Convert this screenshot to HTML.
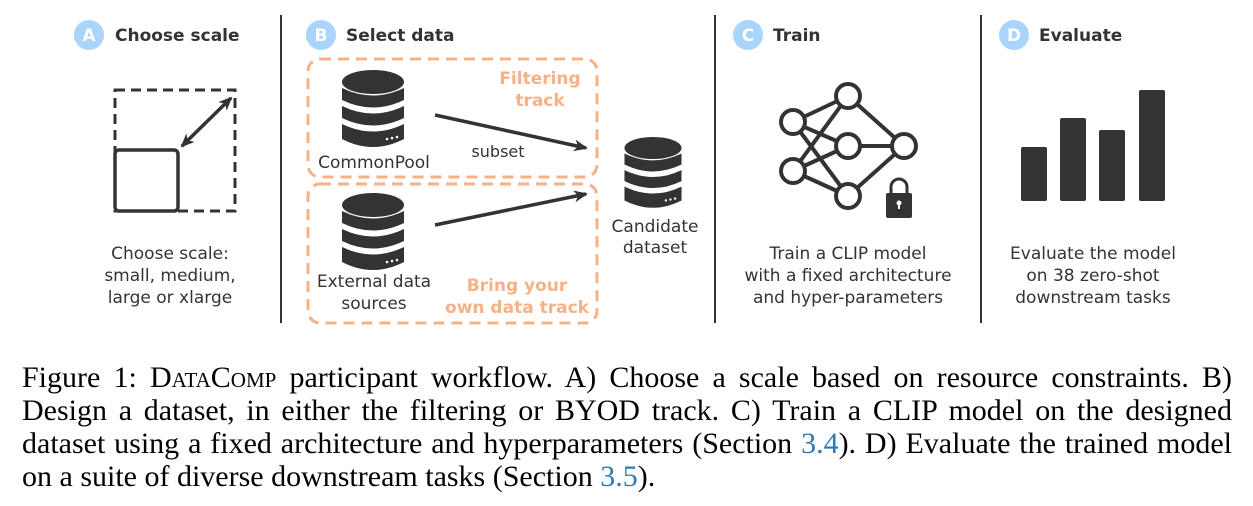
<!DOCTYPE html>
<html><head><meta charset="utf-8"><style>
body{margin:0;background:#fff;width:1253px;height:506px;overflow:hidden;position:relative}
svg{position:absolute;left:0;top:0}
.cap{position:absolute;left:22px;width:1210px;font-family:"Liberation Serif",serif;font-size:30px;color:#000;white-space:nowrap}
.j{text-align:justify;text-align-last:justify}
.sc{font-variant:small-caps}
.b{color:#2a7ab8}
</style></head><body>
<svg width="1253" height="506" viewBox="0 0 1253 506" font-family="DejaVu Sans, sans-serif">
<defs>
<marker id="ah" markerWidth="14" markerHeight="12" refX="12" refY="6" orient="auto" markerUnits="userSpaceOnUse"><path d="M0,0 L14,6 L0,12 L4,6 z" fill="#333"/></marker>
<marker id="ahs" markerWidth="14" markerHeight="12" refX="2" refY="6" orient="auto" markerUnits="userSpaceOnUse"><path d="M14,0 L0,6 L14,12 L10,6 z" fill="#333"/></marker>
<g id="db">
<ellipse cx="0" cy="0" rx="31" ry="12" fill="#333"/>
<path d="M-31,6 Q0,21 31,6 V18 Q0,33 -31,18 Z" fill="#333"/>
<path d="M-31,24 Q0,39 31,24 V36 Q0,51 -31,36 Z" fill="#333"/>
<path d="M-31,42 Q0,57 31,42 V57 Q0,73 -31,57 Z" fill="#333"/>
<circle cx="14" cy="57" r="1.3" fill="#fff"/><circle cx="19" cy="56" r="1.3" fill="#fff"/><circle cx="24" cy="55" r="1.3" fill="#fff"/>
</g>
</defs>
<g fill="#333">
<line x1="281" y1="15" x2="281" y2="323" stroke="#333" stroke-width="2"/>
<line x1="715" y1="15" x2="715" y2="323" stroke="#333" stroke-width="2"/>
<line x1="981" y1="15" x2="981" y2="323" stroke="#333" stroke-width="2"/>
</g>
<g font-weight="bold" font-size="17" fill="#333">
<circle cx="89" cy="35" r="15" fill="#a9d4fb"/><text x="89" y="41" fill="#fff" text-anchor="middle">A</text>
<text x="115" y="41">Choose scale</text>
<circle cx="321" cy="35" r="15" fill="#a9d4fb"/><text x="321" y="41" fill="#fff" text-anchor="middle">B</text>
<text x="346" y="41">Select data</text>
<circle cx="748" cy="35" r="15" fill="#a9d4fb"/><text x="748" y="41" fill="#fff" text-anchor="middle">C</text>
<text x="773" y="41">Train</text>
<circle cx="1014" cy="35" r="15" fill="#a9d4fb"/><text x="1014" y="41" fill="#fff" text-anchor="middle">D</text>
<text x="1039" y="41">Evaluate</text>
</g>
<!-- A -->
<rect x="115" y="90" width="120" height="121" fill="none" stroke="#333" stroke-width="3" stroke-dasharray="10,6"/>
<rect x="115" y="150" width="63" height="61" rx="4" fill="#fff" stroke="#333" stroke-width="3.5"/>
<line x1="182" y1="146" x2="231" y2="98" stroke="#333" stroke-width="3.5" marker-end="url(#ah)" marker-start="url(#ahs)"/>
<g font-size="17" fill="#333" text-anchor="middle">
<text x="170" y="259">Choose scale:</text><text x="170" y="281">small, medium,</text><text x="170" y="303">large or xlarge</text>
</g>
<!-- B -->
<rect x="308" y="59" width="289" height="118" rx="12" fill="none" stroke="#f7b186" stroke-width="3" stroke-dasharray="11,7"/>
<rect x="308" y="184" width="289" height="139" rx="12" fill="none" stroke="#f7b186" stroke-width="3" stroke-dasharray="11,7"/>
<use href="#db" x="373" y="82"/>
<use href="#db" x="373" y="205"/>
<use href="#db" transform="translate(653,148) scale(0.92)"/>
<line x1="435" y1="115" x2="586" y2="148" stroke="#333" stroke-width="3.5" marker-end="url(#ah)"/>
<line x1="435" y1="225" x2="586" y2="194" stroke="#333" stroke-width="3.5" marker-end="url(#ah)"/>
<g font-size="17" fill="#333" text-anchor="middle">
<text x="374" y="168">CommonPool</text>
<text x="498" y="157" font-size="16">subset</text>
<text x="374" y="287">External data</text><text x="374" y="309">sources</text>
<text x="655" y="232">Candidate</text><text x="655" y="253">dataset</text>
</g>
<g font-size="17" font-weight="bold" fill="#f7b186" text-anchor="middle">
<text x="540" y="84">Filtering</text><text x="540" y="106">track</text>
<text x="517" y="291">Bring your</text><text x="517" y="313">own data track</text>
</g>
<!-- C -->
<g stroke="#333" stroke-width="4" fill="none">
<line x1="793" y1="122" x2="848" y2="96"/><line x1="793" y1="122" x2="848" y2="146"/><line x1="793" y1="122" x2="848" y2="196"/>
<line x1="793" y1="171" x2="848" y2="96"/><line x1="793" y1="171" x2="848" y2="146"/><line x1="793" y1="171" x2="848" y2="196"/>
<line x1="848" y1="96" x2="904" y2="146"/><line x1="848" y1="146" x2="904" y2="146"/><line x1="848" y1="196" x2="904" y2="146"/>
<g fill="#fff"><circle cx="848" cy="96" r="12"/><circle cx="793" cy="122" r="12"/><circle cx="793" cy="171" r="12"/><circle cx="848" cy="146" r="12"/><circle cx="848" cy="196" r="12"/><circle cx="904" cy="146" r="12"/></g>
<path d="M891,193 V187 A8,8 0 0 1 907,187 V193" stroke-width="3"/>
</g>
<rect x="886" y="193" width="26" height="25" rx="2" fill="#333"/>
<circle cx="899" cy="203" r="2.5" fill="#fff"/><rect x="898" y="203" width="2" height="6" fill="#fff"/>
<g font-size="17" fill="#333" text-anchor="middle">
<text x="848" y="259">Train a CLIP model</text><text x="848" y="281">with a fixed architecture</text><text x="848" y="303">and hyper-parameters</text>
</g>
<!-- D -->
<g fill="#333">
<rect x="1021" y="147" width="26" height="54" rx="2"/>
<rect x="1060" y="118" width="26" height="83" rx="2"/>
<rect x="1099" y="130" width="26" height="71" rx="2"/>
<rect x="1139" y="90" width="26" height="111" rx="2"/>
</g>
<g font-size="17" fill="#333" text-anchor="middle">
<text x="1093" y="259">Evaluate the model</text><text x="1093" y="281">on 38 zero-shot</text><text x="1093" y="303">downstream tasks</text>
</g>
</svg>
<div class="cap j" style="top:361px">Figure 1: <span class="sc">DataComp</span> participant workflow. A) Choose a scale based on resource constraints. B)</div>
<div class="cap j" style="top:394px">Design a dataset, in either the filtering or BYOD track. C) Train a CLIP model on the designed</div>
<div class="cap j" style="top:427px">dataset using a fixed architecture and hyperparameters (Section <span class="b">3.4</span>). D) Evaluate the trained model</div>
<div class="cap" style="top:460px">on a suite of diverse downstream tasks (Section <span class="b">3.5</span>).</div>
</body></html>
